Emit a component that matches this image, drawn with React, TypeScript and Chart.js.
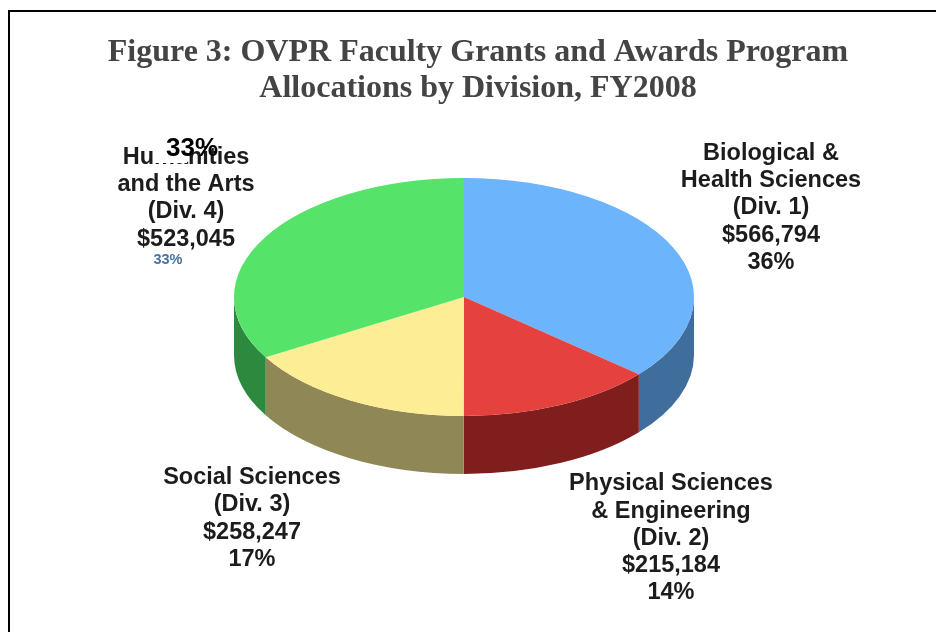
import React, { useEffect, useRef } from "react";
import { Chart, registerables } from "chart.js";

Chart.register(...registerables);

const divisions = [
  "Biological & Health Sciences (Div. 1)",
  "Physical Sciences & Engineering (Div. 2)",
  "Social Sciences (Div. 3)",
  "Humanities and the Arts (Div. 4)",
];
const allocations = [566794, 215184, 258247, 523045];
const titleLines = [
  "Figure 3: OVPR Faculty Grants and Awards Program",
  "Allocations by Division, FY2008",
];
const bioLabel = ["Biological &", "Health Sciences", "(Div. 1)", "$566,794", "36%"];
const physLabel = ["Physical Sciences", "& Engineering", "(Div. 2)", "$215,184", "14%"];
const socLabel = ["Social Sciences", "(Div. 3)", "$258,247", "17%"];
const humLabel = ["Humanities", "and the Arts", "(Div. 4)", "$523,045"];
const strayPercent = "33%";

const topColors = ["#6cb4fb", "#e5413f", "#fdee96", "#56e36a"];
const wallColors = ["#3f6d9c", "#801e1d", "#8f8856", "#2c8a3e"];

const CX = 464;
const CY = 297;
const RX = 230;
const RY = 119;
const DEPTH = 58;
const LABEL_FONT = "bold 23.5px 'Liberation Sans'";
const LABEL_COLOR = "#1c1c1c";

const pie3d = {
  id: "pie3d",
  beforeDatasetDraw(chart: any) {
    const { ctx } = chart;
    const arcs = chart.getDatasetMeta(0).data;
    const TAU = Math.PI * 2;
    ctx.save();
    arcs.forEach((arc: any, i: number) => {
      const a0 = arc.startAngle;
      const a1 = arc.endAngle;
      // Front half of the rim only: canvas angles 0..PI
      [0, TAU].forEach((shift) => {
        const s = Math.max(a0 - shift, 0);
        const e = Math.min(a1 - shift, Math.PI);
        if (e <= s) return;
        ctx.beginPath();
        ctx.ellipse(CX, CY, RX, RY, 0, s, e);
        ctx.ellipse(CX, CY + DEPTH, RX, RY, 0, e, s, true);
        ctx.closePath();
        ctx.fillStyle = wallColors[i];
        ctx.fill();
      });
    });
    ctx.restore();
    const { x, y, outerRadius } = arcs[0];
    ctx.save();
    ctx.translate(CX, CY);
    ctx.scale(RX / outerRadius, RY / outerRadius);
    ctx.translate(-x, -y);
  },
  afterDatasetDraw(chart: any) {
    chart.ctx.restore();
  },
  afterDraw(chart: any) {
    const { ctx } = chart;
    const block = (lines: string[], x: number, y: number, step: number) => {
      lines.forEach((t, i) => ctx.fillText(t, x, y + i * step));
    };
    ctx.save();
    ctx.filter = "blur(0.5px)";
    ctx.textAlign = "center";
    ctx.textBaseline = "middle";
    ctx.font = LABEL_FONT;
    ctx.fillStyle = LABEL_COLOR;
    block(bioLabel, 771, 153.5, 27.2);
    block(physLabel, 671, 484, 27.2);
    block(socLabel, 252, 477.5, 27.3);
    block(humLabel, 186, 157.5, 27.2);
    ctx.filter = "none";
    ctx.fillStyle = "#ffffff";
    ctx.fillRect(153, 145, 34, 18);
    ctx.fillStyle = "#000000";
    ctx.font = "bold 26px 'Liberation Sans'";
    ctx.fillText(strayPercent, 192, 149);
    ctx.fillStyle = "#44739f";
    ctx.font = "bold 14.5px 'Liberation Sans'";
    ctx.fillText(strayPercent, 168, 260);
    ctx.restore();
  },
};

export default function App() {
  const ref = useRef<HTMLCanvasElement>(null);
  useEffect(() => {
    document.body.style.margin = "0";
    const chart = new Chart(ref.current!, {
      type: "pie",
      data: {
        labels: divisions,
        datasets: [
          {
            data: allocations,
            backgroundColor: topColors,
            borderWidth: 0,
          },
        ],
      },
      options: {
        responsive: false,
        animation: false,
        layout: { padding: { left: 20, right: 0, top: 0, bottom: 0 } },
        plugins: {
          legend: { display: false },
          tooltip: { enabled: false },
          title: {
            display: true,
            text: titleLines,
            color: "#444444",
            font: { family: "'Liberation Serif'", size: 32, weight: "bold", lineHeight: "36px" },
            padding: { top: 34.5, bottom: 10 },
          },
        },
      },
      plugins: [pie3d],
    } as any);
    return () => chart.destroy();
  }, []);
  return (
    <div style={{ position: "relative", width: 936, height: 632, overflow: "hidden", background: "#fff" }}>
      <canvas ref={ref} width={936} height={632} style={{ display: "block" }} />
      <div
        style={{
          position: "absolute",
          left: 8,
          top: 10,
          width: 928,
          height: 622,
          boxSizing: "border-box",
          borderLeft: "2px solid #000",
          borderTop: "2px solid #000",
          pointerEvents: "none",
        }}
      />
    </div>
  );
}
